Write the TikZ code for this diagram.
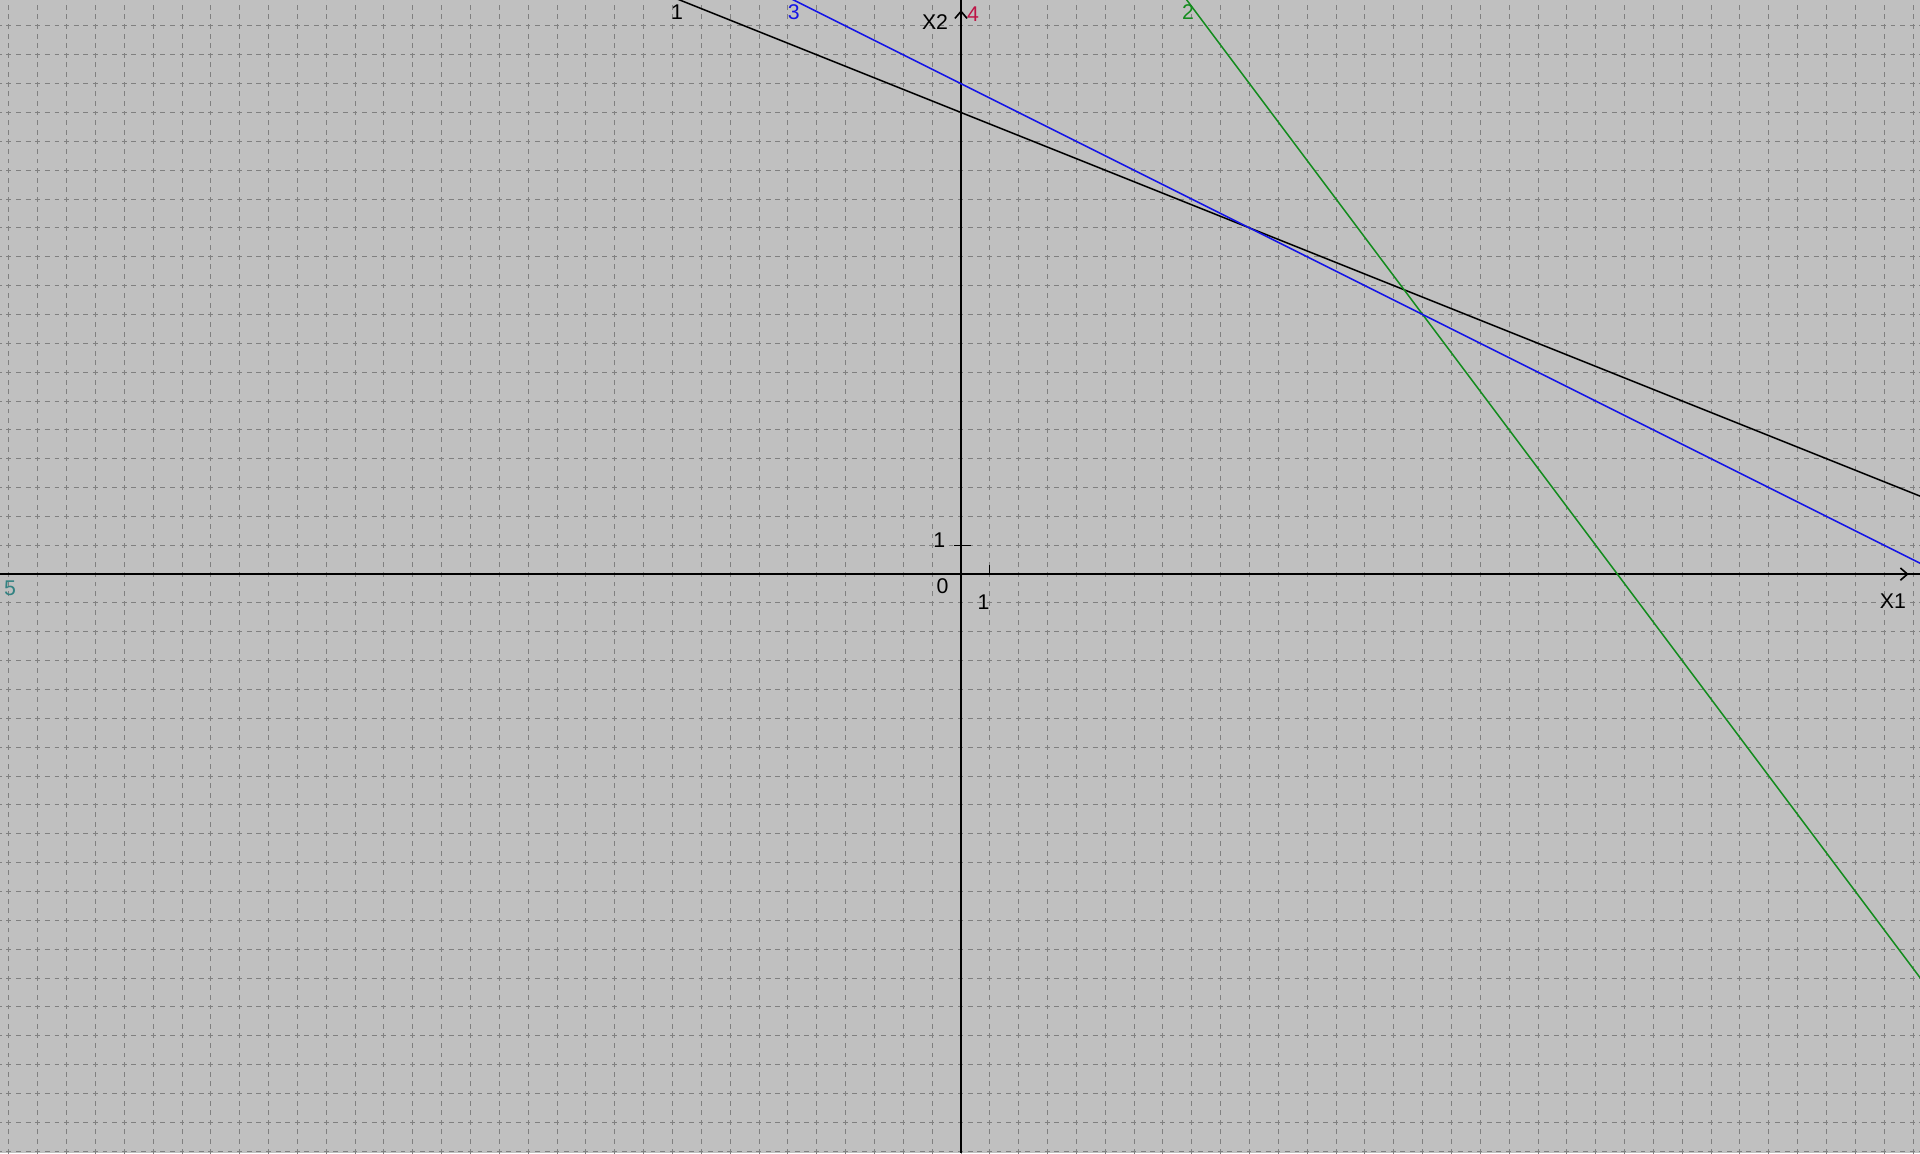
\documentclass[tikz,border=0pt]{standalone}
\usepackage{fontspec}
\setmainfont{Liberation Sans}
\usepackage{tikz}
\usetikzlibrary{arrows.meta}
\definecolor{bggray}{RGB}{192,192,192}
\definecolor{gridgray}{RGB}{128,128,128}
\definecolor{lineblue}{RGB}{20,20,230}
\definecolor{linegreen}{RGB}{20,140,30}
\definecolor{labelred}{RGB}{190,20,70}
\definecolor{labelteal}{RGB}{50,130,130}

\begin{document}
\begin{tikzpicture}[x=0.5cm, y=0.5cm,
    gridline/.style={gridgray, line width=0.5pt, dash pattern=on 2.4pt off 2.34pt, dash phase=1.2pt},
    axis/.style={black, line width=0.8pt},
    constraint/.style={line width=0.75pt},
    lbl/.style={inner sep=0pt, font=\fontsize{10.5}{12}\selectfont},
]
% canvas
\useasboundingbox (-33.31,-20.07) rectangle (33.24,19.90);
\fill[bggray] (-33.31,-20.07) rectangle (33.24,19.90);
\clip (-33.31,-20.07) rectangle (33.24,19.90);
\draw[gridline, step=0.5cm] (-34,-21) grid (34,21);

% axes
\coordinate (west) at (-33.31,0);
\coordinate (east) at (33.24,0);
\coordinate (south) at (0,-20.07);
\coordinate (north) at (0,19.90);
\coordinate (xtip) at (32.85,0);
\coordinate (ytip) at (0,19.55);
\draw[axis] (west) -- (east);
\draw[axis] (south) -- (north);
\draw[axis, -{Straight Barb[length=3.5pt, width=6pt]}] (31.5,0) -- (xtip);
\draw[axis, -{Straight Barb[length=3.5pt, width=6pt]}] (0,18.2) -- (ytip);
\draw[black, line width=0.6pt] (-0.25,1) -- (0.35,1);
\draw[black, line width=0.6pt] (1,0) -- (1,0.3);

% constraint lines
\draw[constraint, black] (-10,20) -- (40,0);
\draw[constraint, linegreen] (7.75,20) -- (37,-19);
\draw[constraint, lineblue] (-6,20) -- (34,0);

% labels
\node[lbl] (lone) at (-9.84,19.47) {1};
\node[lbl, lineblue] (lthree) at (-5.8,19.47) {3};
\node[lbl, linegreen] (ltwo) at (7.87,19.47) {2};
\node[lbl, labelred] (lfour) at (0.42,19.41) {4};
\node[lbl, labelteal] (lfive) at (-32.96,-0.48) {5};
\node[lbl] (xtwo) at (-0.9,19.13) {X2};
\node[lbl] (xone) at (32.3,-0.95) {X1};
\node[lbl] (zero) at (-0.64,-0.42) {0};
\node[lbl] (yunit) at (-0.75,1.18) {1};
\node[lbl] (xunit) at (0.78,-0.97) {1};
\end{tikzpicture}
\end{document}
